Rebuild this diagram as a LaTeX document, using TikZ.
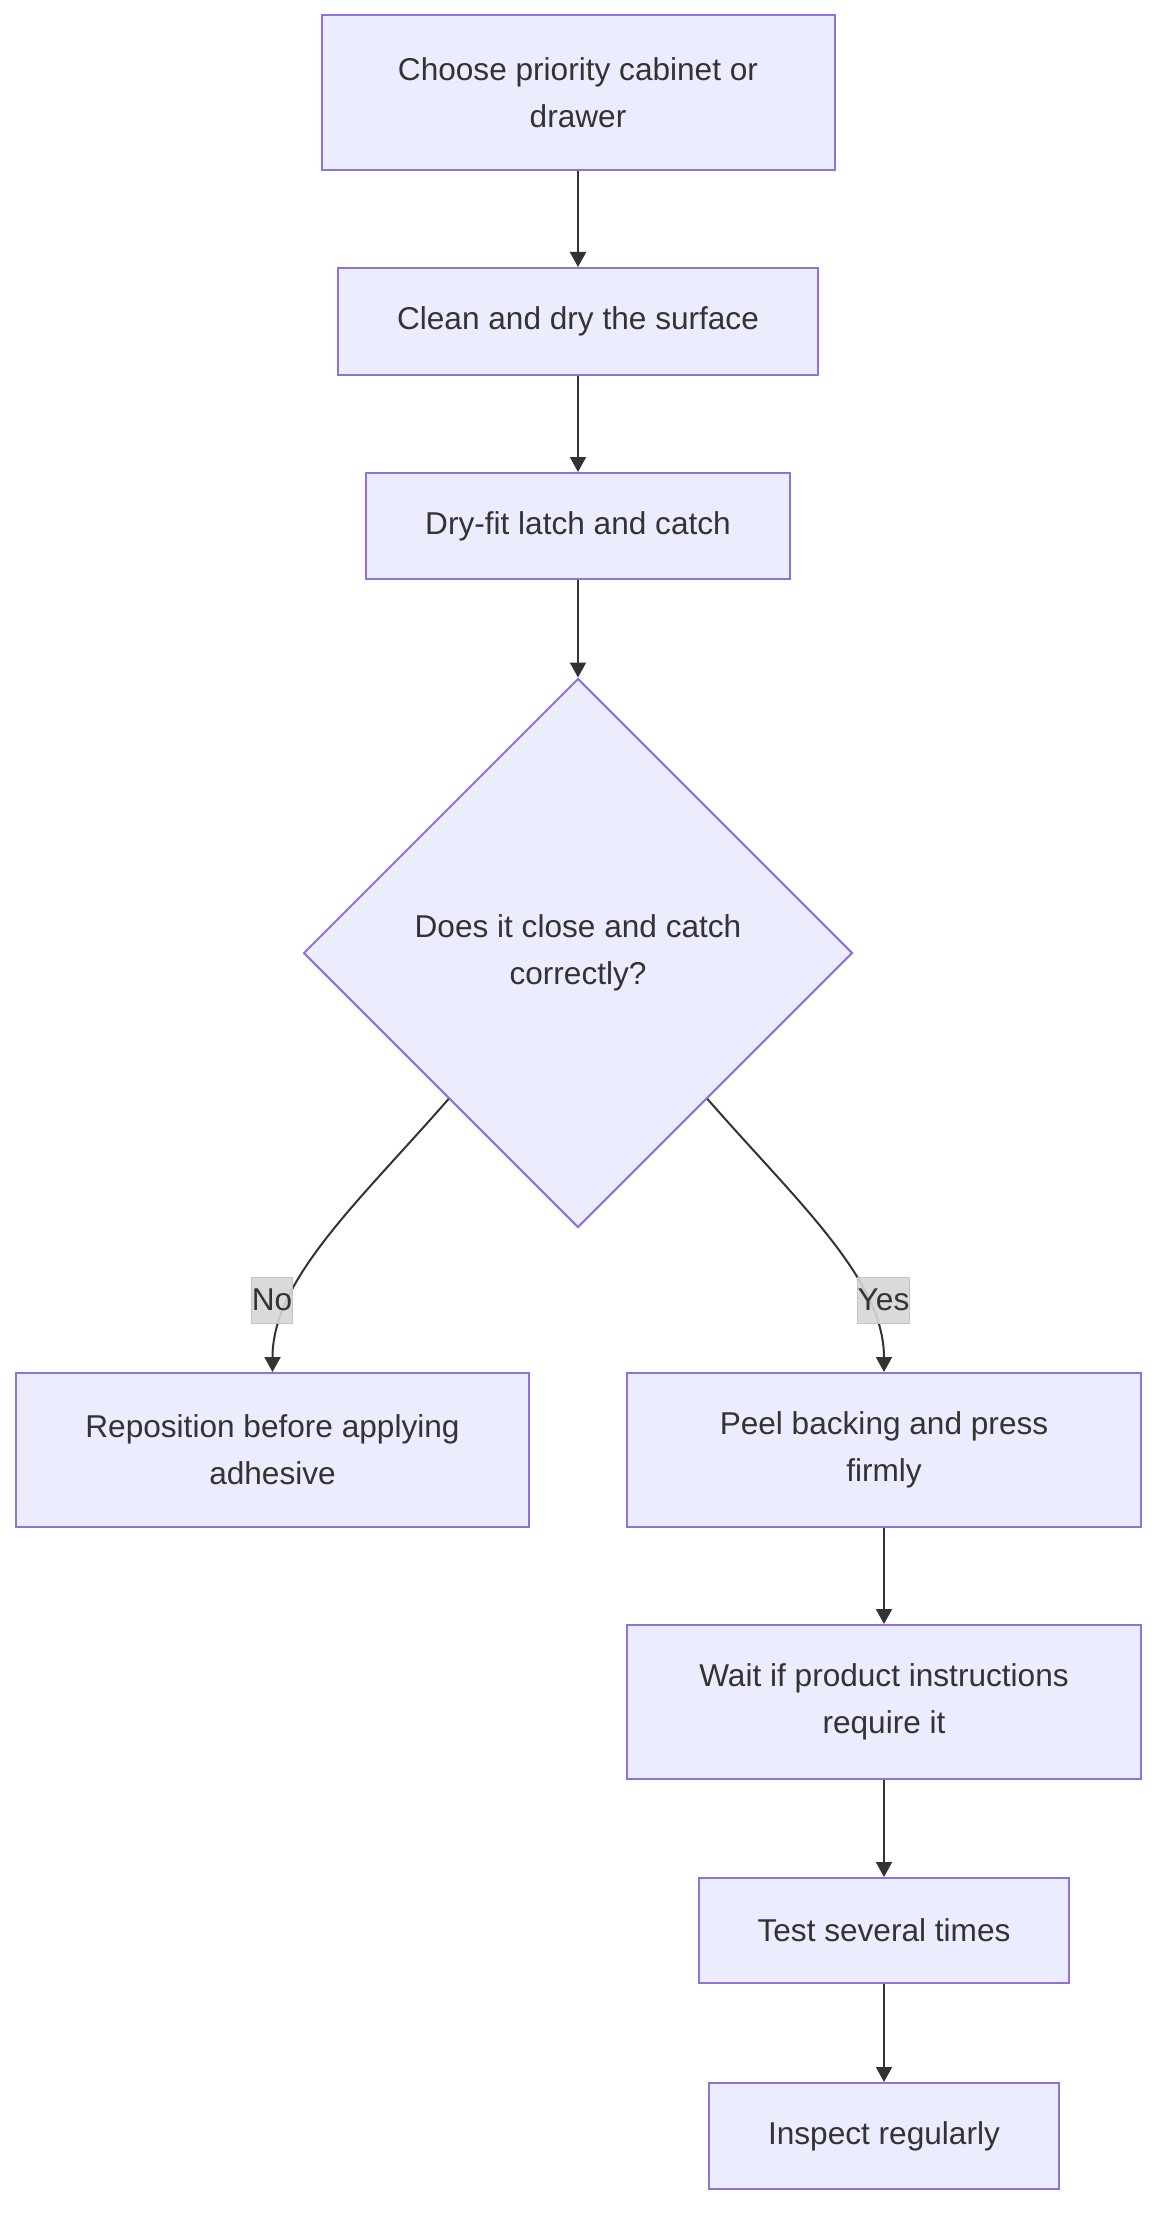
\documentclass[tikz,border=0pt]{standalone}
\usepackage{fontspec}
\setmainfont{Liberation Sans}
\usetikzlibrary{shapes.geometric,arrows.meta,calc}
\definecolor{nodefill}{HTML}{ECECFF}
\definecolor{nodeline}{HTML}{9370DB}
\definecolor{txt}{HTML}{333333}
\definecolor{lblbg}{HTML}{D6D6D6}
\definecolor{lblline}{HTML}{C4C4C4}
\begin{document}
\begin{tikzpicture}[x=0.5pt,y=-0.5pt,
  box/.style={draw=nodeline,fill=nodefill,line width=1pt,text=txt,
    font=\fontsize{15.8}{23.5}\selectfont,align=center,inner sep=0pt},
  dec/.style={diamond,draw=nodeline,fill=nodefill,line width=1pt,text=txt,
    font=\fontsize{15.8}{23.5}\selectfont,align=center,inner sep=0pt,
    minimum width=274.5pt,minimum height=274.5pt},
  lbl/.style={fill=lblbg,draw=lblline,line width=0.5pt,text=txt,
    font=\fontsize{15.8}{23.5}\selectfont,inner xsep=0pt,inner ysep=0pt,
    minimum height=23pt},
  arr/.style={draw=txt,line width=1pt,-{Triangle[length=7.5pt,width=8pt]}}
]
\useasboundingbox (0,0) rectangle (1172,2236);

\node[box,minimum width=256.5pt,minimum height=77.5pt] (b1) at (578,92.5) {Choose priority cabinet or\\drawer};
\node[box,minimum width=240pt,minimum height=53.5pt] (b2) at (578,321.5) {Clean and dry the surface};
\node[box,minimum width=212pt,minimum height=53pt] (b3) at (578,526) {Dry-fit latch and catch};
\node[dec] (d) at (578,953) {Does it close and catch\\correctly?};
\node[box,minimum width=256.5pt,minimum height=77pt] (no) at (272.5,1450) {Reposition before applying\\adhesive};
\node[box,minimum width=257pt,minimum height=77pt] (yes) at (884,1450) {Peel backing and press\\firmly};
\node[box,minimum width=257pt,minimum height=77pt] (wait) at (884,1702) {Wait if product instructions\\require it};
\node[box,minimum width=185pt,minimum height=52.5pt] (test) at (884,1930.5) {Test several times};
\node[box,minimum width=175pt,minimum height=53pt] (insp) at (884,2136) {Inspect regularly};

\draw[arr] (b1.south) -- (b2.north);
\draw[arr] (b2.south) -- (b3.north);
\draw[arr] (b3.south) -- (d.north);
\draw[arr] ($(d.west)!0.53!(d.south)$) .. controls +(-89,102) and +(0,-93) .. (no.north);
\draw[arr] ($(d.east)!0.53!(d.south)$) .. controls +(89,102) and +(0,-93) .. (yes.north);
\draw[arr] (yes.south) -- (wait.north);
\draw[arr] (wait.south) -- (test.north);
\draw[arr] (test.south) -- (insp.north);

\node[lbl,fill opacity=0.9,text opacity=1] (lno) at (272,1300) {No};
\node[lbl,fill opacity=0.9,text opacity=1] (lyes) at (883.5,1300) {Yes};
\end{tikzpicture}
\end{document}
